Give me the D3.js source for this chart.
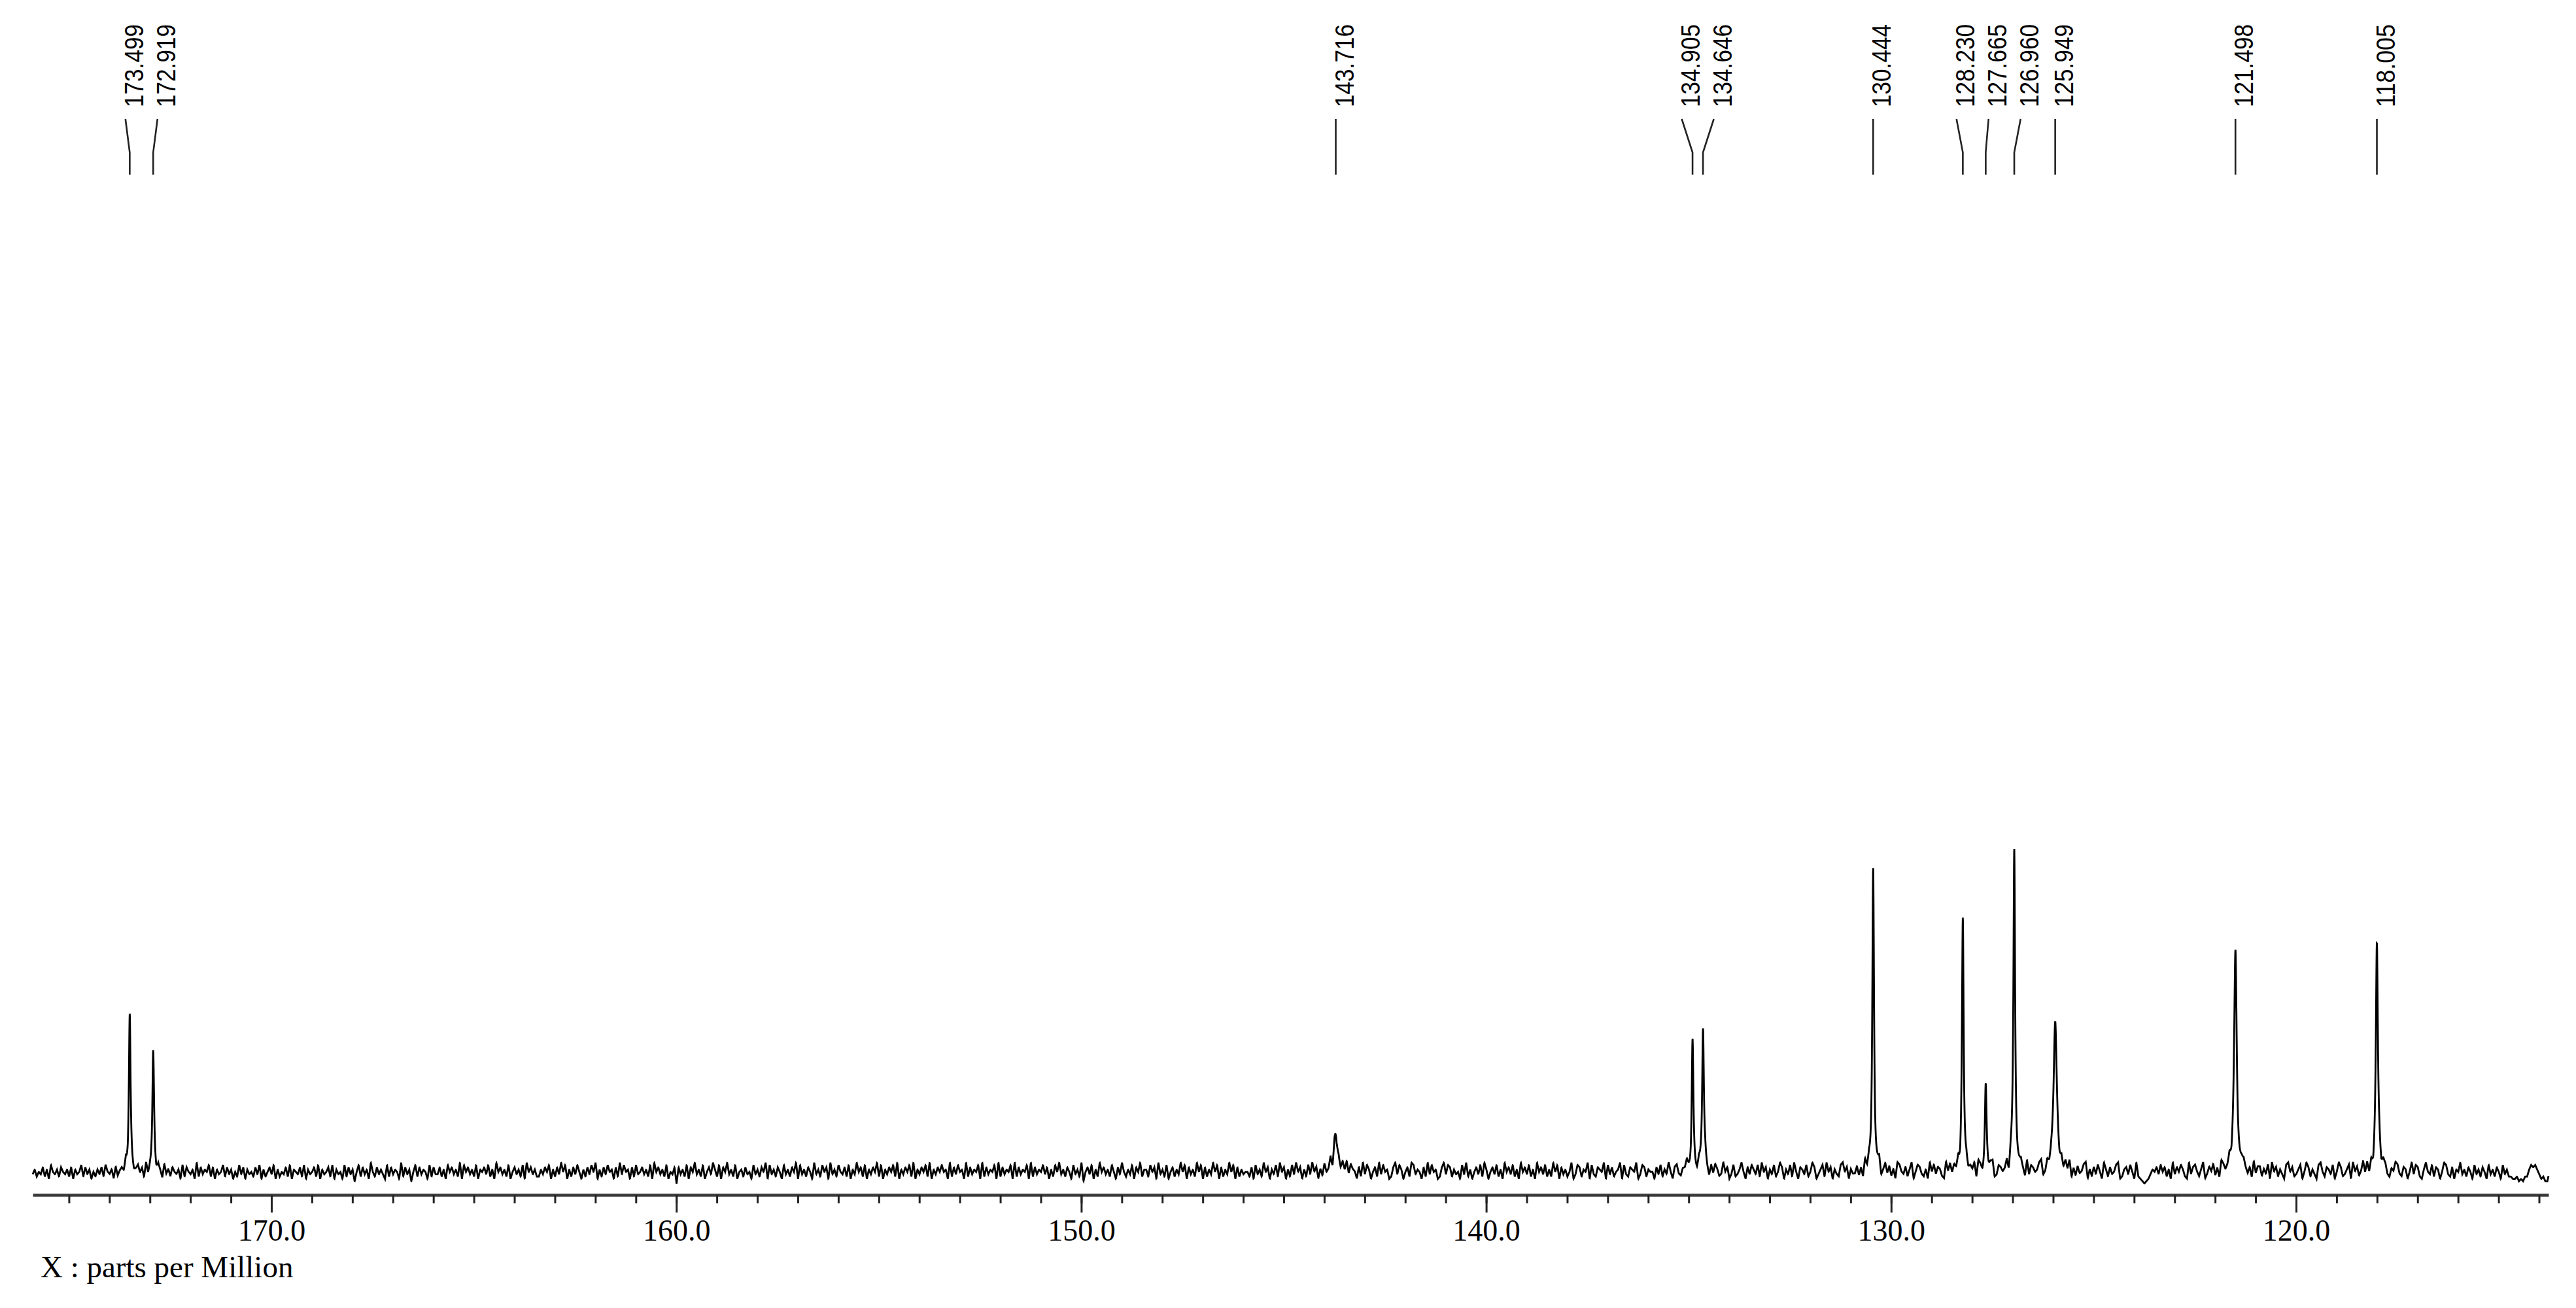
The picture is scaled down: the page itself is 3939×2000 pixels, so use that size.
<!DOCTYPE html>
<html><head><meta charset="utf-8">
<script src="https://cdn.jsdelivr.net/npm/d3@7"></script>
<style>body{margin:0;background:#fff}svg{display:block}</style>
</head><body><svg id="c" width="3939" height="2000"></svg>
<script>
// ---- data ----
const peakPpm    = [173.499, 172.919, 143.716, 134.905, 134.646, 130.444, 128.230, 127.665, 126.960, 125.949, 121.498, 118.005];
const peakTop    = [48.9, 37.6, 11.5, 41.2, 44.4, 94.1, 78.6, 27.5, 100, 46.5, 68.7, 70.9];   // observed apex height
const peakWidth  = [0.025, 0.025, 0.06, 0.025, 0.025, 0.025, 0.025, 0.025, 0.025, 0.05, 0.04, 0.03];
const axisRange  = [175.895, 113.766];
const majorTicks = [170, 160, 150, 140, 130, 120];
const minorTicks = d3.range(114, 176);
const xLabel = "X : parts per Million";
// baseline trace estimated every 0.05 ppm from 175.895 ppm downward (digit 5 = zero level)
const baselineNoise = [
  "46354736285463754637264583746253647385462735648375",
  "35746283546375284637546283754629374658372645837462",
  "53847264537482635748263547382654738264573826457382",
  "64528374615837462953746428374652937461583746528374",
  "47362857463928574638265748362957463825746382957463",
  "36475826374958263748526374859263748562739485627384",
  "57463829574638254707463827594638257496382759463825",
  "63745284637592846375284637592846375294638572946385",
  "47382649573826475938264758392647583926475839264758",
  "56293748562937465829374658293746582937465829374658",
  "47263859463752846391574826395746385274953648275936",
  "63857294638257364958274639582736495827364958273645",
  "53728463957264839572638495726384957263845927364859",
  "48652739486257394856237948625739846527394856237948",
  "73645284936257483962574836295748362957483629574836",
  "39582746359248736592843765928473569284376592487365",
  "52748364952784366952743864952748634957248346952748",
  "64839572648359726483952764835972468395726438957264",
  "47362958473692584736298547369258743629584763295847",
  "58293746582973465892376458297346852937645892374658",
  "63748592637458926374852963745892367485293210124657",
  "48573629475863294785369247583629745836924785362947",
  "73648295736428957346825973642895376482597346829573",
  "59483726594873265984376259487326954837625984372659",
  "4637528463752846375284633223121336878642311"
].join("");

// ---- layout ----
const svg = d3.select("#c");
const x = d3.scaleLinear().domain(axisRange).range([50, 3897]);
const y = d3.scaleLinear().domain([0, 100]).range([1792, 1297]);

const ds = 0.05;
function baseAt(i) {
  const c = baselineNoise.charAt(i);
  return ((c === "" ? 5 : +c) - 5) * 0.72;
}
function baseline(p) {
  const f = (axisRange[0] - p) / ds;
  const i = Math.floor(f + 1e-9), t = f - i;
  return baseAt(i) * (1 - t) + baseAt(i + 1) * t;
}
function lor(p, k) { const d = (p - peakPpm[k]) / peakWidth[k]; return 1 / (1 + d * d); }
// amplitudes chosen so the apex reaches the observed top
const amp = peakPpm.map((p, k) => {
  let other = 0;
  peakPpm.forEach((q, j) => { if (j !== k) other += peakTop[j] * lor(p, j); });
  return peakTop[k] - baseline(p) - other;
});

const step = 0.004;
const pts = [];
for (let p = axisRange[0]; p >= axisRange[1]; p -= step) {
  let v = baseline(p);
  for (let k = 0; k < peakPpm.length; k++) v += amp[k] * lor(p, k);
  pts.push([p, v]);
}
svg.append("path")
  .attr("d", d3.line().x(d => x(d[0])).y(d => y(d[1]))(pts))
  .attr("fill", "none").attr("stroke", "#000").attr("stroke-width", 2.8)
  .attr("stroke-linejoin", "miter");

// axis
const axG = svg.append("g").attr("transform", "translate(0,1827)");
axG.call(d3.axisBottom(x).tickValues(minorTicks).tickSize(13).tickSizeOuter(0).tickFormat(""));
axG.select(".domain").attr("stroke", "#3a3a3a").attr("stroke-width", 4.5);
axG.selectAll(".tick line").attr("stroke", "#222").attr("stroke-width", 3);
const axM = svg.append("g").attr("transform", "translate(0,1827)");
axM.call(d3.axisBottom(x).tickValues(majorTicks).tickSize(27).tickPadding(10).tickFormat(d3.format(".1f")));
axM.select(".domain").remove();
axM.selectAll(".tick line").attr("stroke", "#222").attr("stroke-width", 3);
axM.selectAll(".tick text").attr("fill", "#000")
  .style("font-family", "'Liberation Serif','Times New Roman',serif").style("font-size", "46px");

svg.append("text").attr("x", 62).attr("y", 1953).text(xLabel)
  .style("font-family", "'Liberation Serif','Times New Roman',serif").style("font-size", "47px").attr("fill", "#000");

// peak labels with collision-resolved positions
const minSep = 49;
let order = peakPpm.map((p, i) => i).sort((a, b) => x(peakPpm[a]) - x(peakPpm[b]));
let groups = order.map(i => ({ idx: [i] }));
function gStart(g) {
  const xs = g.idx.map(i => x(peakPpm[i]));
  return (xs[0] + xs[xs.length - 1]) / 2 - (xs.length - 1) * minSep / 2;
}
let merged = true;
while (merged) {
  merged = false;
  for (let k = 0; k < groups.length - 1; k++) {
    const a = groups[k], b = groups[k + 1];
    const aEnd = gStart(a) + (a.idx.length - 1) * minSep;
    if (gStart(b) - aEnd < minSep) {
      groups.splice(k, 2, { idx: a.idx.concat(b.idx) });
      merged = true; break;
    }
  }
}
const labelX = {};
groups.forEach(g => { const s = gStart(g); g.idx.forEach((i, j) => labelX[i] = s + j * minSep); });

const lab = svg.append("g");
peakPpm.forEach((p, i) => {
  const px = x(p), lx = labelX[i];
  lab.append("path").attr("d", `M${lx},182L${px},233L${px},267`)
    .attr("fill", "none").attr("stroke", "#222").attr("stroke-width", 2.6);
  lab.append("text")
    .attr("transform", `translate(${lx + 27},164) rotate(-90)`)
    .attr("textLength", 127).attr("lengthAdjust", "spacingAndGlyphs")
    .style("font-family", "'Liberation Sans',Arial,sans-serif").style("font-size", "40px")
    .attr("fill", "#000").text(p.toFixed(3));
});
</script>
</body></html>
